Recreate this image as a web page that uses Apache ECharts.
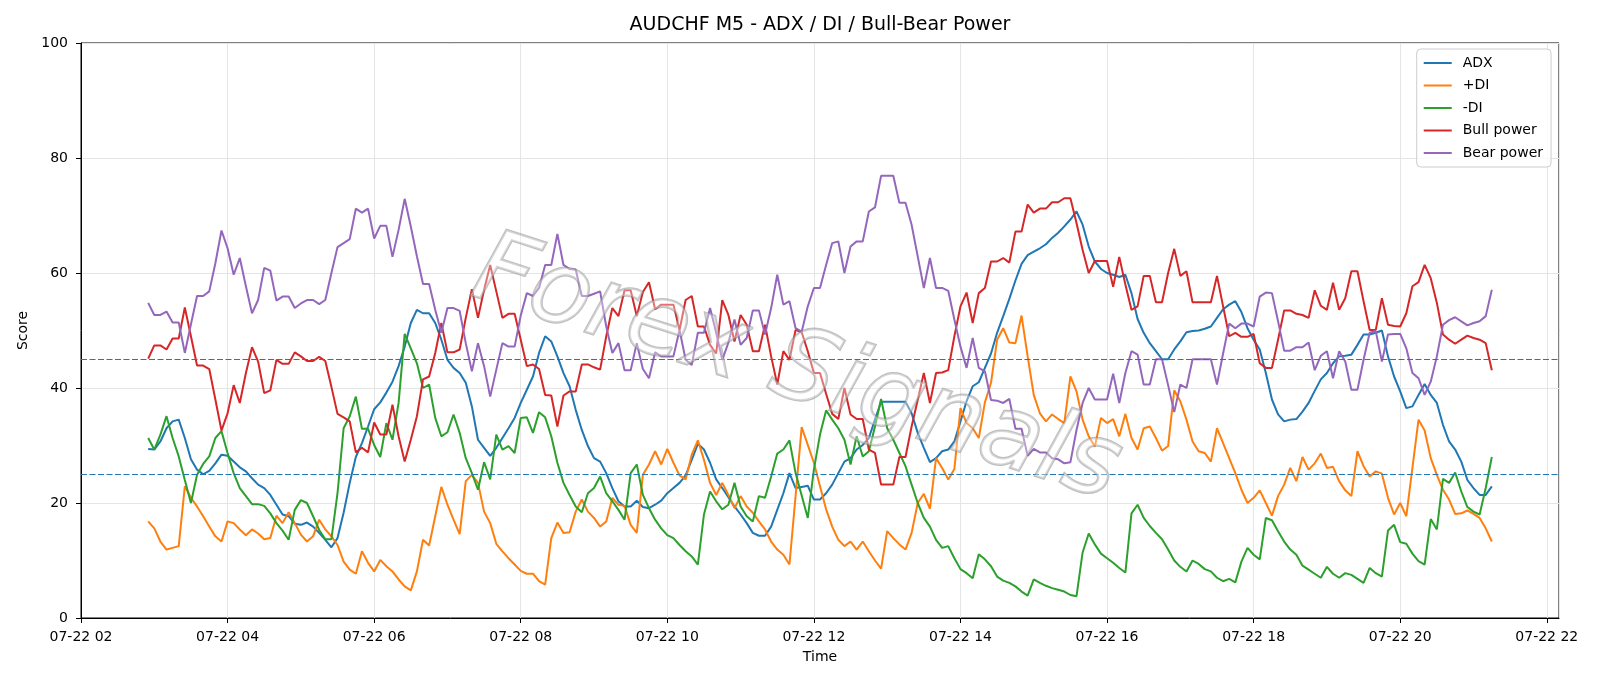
<!DOCTYPE html>
<html>
<head>
<meta charset="utf-8">
<title>AUDCHF M5 - ADX / DI / Bull-Bear Power</title>
<script src="https://cdn.jsdelivr.net/npm/echarts@6/dist/echarts.min.js"></script>
<style>
  html, body { margin: 0; padding: 0; background: #fff; }
  #chart { width: 1600px; height: 686px; }
</style>
</head>
<body>
<div id="chart"></div>
<script>
// M5 bars from 07-22 02:55 to 07-22 21:15 (hours of the day)
const startHour = 2 + 55 / 60
const stepMinutes = 5

const adx = [
  29.4, 29.3, 30.7, 33.0, 34.2, 34.5, 31.3, 27.6, 25.8, 25.0,
  25.6, 26.9, 28.4, 28.2, 27.2, 26.2, 25.5, 24.3, 23.2, 22.6,
  21.4, 19.7, 18.0, 17.7, 16.4, 16.2, 16.6, 15.9, 14.8, 13.6,
  12.3, 13.9, 18.3, 23.5, 28.0, 30.4, 33.3, 36.3, 37.5, 39.2,
  41.1, 43.8, 47.2, 51.3, 53.6, 53.0, 53.0, 51.3, 48.4, 44.9,
  43.5, 42.6, 40.9, 36.8, 31.0, 29.6, 28.2, 29.6, 31.3, 33.0,
  34.8, 37.4, 39.7, 42.0, 46.1, 49.0, 48.1, 45.5, 42.6, 40.3,
  36.2, 32.7, 29.9, 27.8, 27.2, 25.2, 22.6, 20.3, 19.4, 19.4,
  20.4, 19.3, 19.1, 19.7, 20.4, 21.7, 22.6, 23.5, 24.8, 27.5,
  30.3, 29.3, 27.0, 24.1, 22.6, 21.0, 19.4, 18.0, 16.5, 14.8,
  14.3, 14.3, 15.9, 18.8, 21.7, 25.2, 22.6, 22.8, 23.0, 20.6,
  20.6, 21.7, 23.2, 25.2, 27.2, 27.8, 29.3, 30.1, 31.3, 34.5,
  37.6, 37.6, 37.6, 37.6, 37.6, 35.6, 32.2, 29.6, 27.1, 27.8,
  29.0, 29.3, 30.7, 34.2, 37.7, 40.3, 41.0, 43.5, 46.0, 49.6,
  52.5, 55.5, 58.7, 61.6, 63.1, 63.7, 64.3, 65.0, 66.1, 67.0,
  68.1, 69.3, 70.7, 68.4, 64.6, 62.0, 60.7, 60.0, 59.7, 59.3,
  59.7, 56.5, 52.0, 49.6, 47.8, 46.4, 45.0, 45.0, 46.7, 48.1,
  49.7, 49.9, 50.0, 50.3, 50.7, 52.2, 53.7, 54.5, 55.1, 53.2,
  50.4, 48.4, 46.7, 42.6, 38.0, 35.4, 34.2, 34.5, 34.6, 35.9,
  37.4, 39.5, 41.5, 42.6, 44.3, 45.5, 45.6, 45.8, 47.5, 49.3,
  49.3, 49.6, 50.0, 45.5, 42.0, 39.4, 36.5, 36.8, 38.8, 40.7,
  38.8, 37.4, 33.6, 30.7, 29.3, 27.2, 24.0, 22.6, 21.4, 21.4, 22.9
]

const plusDi = [
  16.8, 15.6, 13.3, 11.9, 12.2, 12.5, 22.9, 20.9, 19.4, 17.7,
  15.9, 14.2, 13.3, 16.8, 16.5, 15.4, 14.4, 15.4, 14.7, 13.7,
  13.9, 17.8, 16.5, 18.4, 16.5, 14.5, 13.3, 14.2, 17.1, 15.4,
  14.2, 12.7, 9.8, 8.4, 7.7, 11.6, 9.6, 8.1, 10.1, 9.0,
  8.1, 6.7, 5.5, 4.8, 8.1, 13.6, 12.6, 17.7, 22.8, 19.7,
  17.1, 14.6, 23.8, 24.9, 23.5, 18.5, 16.5, 12.9, 11.6, 10.4,
  9.3, 8.2, 7.7, 7.7, 6.4, 5.8, 13.9, 16.6, 14.8, 14.9,
  18.5, 20.6, 18.5, 17.4, 15.9, 16.8, 20.9, 19.7, 19.5, 16.2,
  14.8, 24.9, 26.7, 29.0, 26.7, 29.4, 27.0, 24.8, 24.1, 28.4,
  30.9, 27.5, 23.5, 21.4, 23.5, 21.4, 19.1, 21.2, 19.4, 18.3,
  16.8, 15.4, 13.3, 11.9, 11.0, 9.3, 21.2, 33.2, 30.1, 27.0,
  22.9, 18.9, 15.9, 13.6, 12.5, 13.3, 11.9, 13.3, 11.6, 10.0,
  8.6, 15.1, 13.9, 12.8, 11.9, 14.8, 20.0, 21.6, 19.0, 27.8,
  26.1, 24.1, 25.9, 36.5, 33.9, 33.0, 31.3, 37.5, 40.9, 48.4,
  50.4, 47.9, 47.8, 52.6, 45.5, 38.8, 35.6, 34.2, 35.4, 34.6,
  33.9, 42.0, 39.4, 34.5, 31.6, 29.8, 34.8, 33.9, 34.6, 31.6,
  35.5, 31.3, 29.3, 33.0, 33.3, 31.3, 29.1, 29.9, 39.6, 37.7,
  34.5, 30.7, 29.0, 28.7, 27.2, 33.0, 30.4, 27.8, 25.2, 22.3,
  20.0, 20.9, 22.2, 20.0, 17.8, 21.2, 23.2, 26.1, 23.8, 28.0,
  25.8, 26.9, 28.6, 26.1, 26.3, 23.8, 22.2, 21.2, 29.0, 26.4,
  24.6, 25.5, 25.1, 20.9, 18.0, 20.0, 17.7, 26.1, 34.5, 32.6,
  27.8, 24.9, 22.3, 20.6, 18.1, 18.2, 18.7, 18.1, 17.4, 15.6, 13.3
]

const minusDi = [
  31.3, 29.3, 31.9, 35.1, 31.3, 28.1, 24.0, 20.0, 24.9, 26.8,
  28.1, 31.3, 32.5, 28.7, 25.2, 22.6, 21.2, 19.8, 19.8, 19.5,
  18.2, 16.5, 15.2, 13.6, 18.8, 20.5, 20.0, 17.7, 15.3, 13.7,
  13.7, 21.7, 33.0, 35.1, 38.5, 32.9, 32.9, 30.1, 28.0, 33.9,
  31.0, 37.4, 49.4, 46.9, 44.3, 40.0, 40.6, 34.8, 31.6, 32.3,
  35.4, 32.2, 27.8, 25.2, 22.3, 27.1, 24.1, 31.9, 29.3, 29.9,
  28.7, 34.8, 34.9, 32.2, 35.8, 34.9, 31.6, 27.0, 23.5, 21.4,
  19.4, 18.4, 21.7, 22.6, 24.6, 21.7, 20.3, 18.8, 17.1, 25.2,
  26.7, 21.4, 19.1, 17.1, 15.6, 14.4, 13.9, 12.7, 11.6, 10.7,
  9.3, 18.0, 22.0, 20.3, 18.9, 19.7, 23.5, 19.4, 17.7, 16.8,
  21.2, 20.9, 24.6, 28.6, 29.3, 30.9, 25.2, 21.3, 17.4, 25.8,
  31.9, 36.1, 34.5, 33.0, 31.0, 26.7, 31.6, 28.1, 29.0, 33.3,
  38.1, 33.0, 31.0, 28.7, 26.4, 23.2, 20.0, 17.4, 15.9, 13.6,
  12.2, 12.5, 10.4, 8.5, 7.8, 6.9, 11.1, 10.2, 9.0, 7.2,
  6.5, 6.1, 5.5, 4.6, 3.9, 6.7, 6.1, 5.6, 5.2, 4.9,
  4.6, 4.0, 3.8, 11.4, 14.7, 12.8, 11.2, 10.4, 9.6, 8.7,
  7.9, 18.2, 19.7, 17.4, 16.0, 14.8, 13.7, 11.9, 10.0, 8.9,
  8.1, 10.0, 9.4, 8.5, 8.1, 7.0, 6.4, 6.8, 6.2, 9.8,
  12.2, 11.0, 10.2, 17.4, 17.0, 15.1, 13.3, 11.9, 11.0, 9.1,
  8.4, 7.7, 7.0, 8.9, 7.7, 7.0, 7.8, 7.5, 6.8, 6.1,
  8.7, 7.8, 7.2, 15.2, 16.2, 13.2, 12.9, 11.2, 9.9, 9.3,
  17.2, 15.4, 24.2, 23.5, 25.3, 22.0, 19.3, 18.5, 18.0, 22.6, 28.0
]

const bullPower = [
  45.1, 47.4, 47.4, 46.7, 48.6, 48.6, 54.0, 49.0, 43.9, 43.9,
  43.3, 38.0, 32.6, 35.6, 40.5, 37.4, 42.6, 47.1, 44.6, 39.1,
  39.6, 44.9, 44.2, 44.2, 46.2, 45.5, 44.7, 44.7, 45.4, 44.7,
  40.2, 35.5, 34.9, 34.2, 28.8, 29.6, 28.8, 34.0, 31.9, 31.9,
  37.1, 31.6, 27.2, 31.0, 35.1, 41.5, 42.0, 46.1, 51.3, 46.2,
  46.2, 46.7, 52.2, 57.2, 52.2, 57.1, 61.4, 56.8, 52.2, 52.9,
  52.9, 48.4, 43.8, 44.1, 43.3, 38.8, 38.7, 33.3, 38.7, 39.4,
  39.4, 44.1, 44.1, 43.6, 43.2, 49.0, 53.9, 52.5, 57.0, 57.0,
  52.5, 56.7, 58.4, 53.7, 54.5, 54.5, 54.5, 50.1, 55.3, 56.0,
  50.7, 50.7, 47.5, 46.0, 55.3, 52.7, 48.1, 52.7, 51.0, 46.4,
  46.4, 51.0, 45.5, 40.6, 46.4, 44.9, 50.1, 49.7, 46.4, 42.6,
  42.6, 39.0, 35.5, 34.6, 40.0, 35.4, 34.6, 34.6, 29.3, 28.7,
  23.2, 23.2, 23.2, 28.0, 28.0, 33.3, 37.9, 42.6, 37.4, 42.6,
  42.7, 43.1, 49.0, 54.2, 56.6, 51.3, 56.5, 57.4, 62.0, 62.0,
  62.6, 61.8, 67.2, 67.2, 71.9, 70.5, 71.2, 71.2, 72.3, 72.3,
  73.0, 73.0, 68.7, 64.0, 60.0, 62.1, 62.1, 62.1, 57.6, 62.8,
  58.0, 53.6, 54.2, 59.5, 59.5, 54.9, 54.9, 60.0, 64.2, 59.5,
  60.3, 54.9, 54.9, 54.9, 54.9, 59.5, 54.2, 49.0, 49.6, 48.9,
  48.9, 49.4, 44.3, 43.5, 43.5, 48.4, 53.5, 53.5, 52.9, 52.7,
  52.2, 57.0, 54.3, 53.6, 58.3, 53.6, 55.6, 60.3, 60.3, 55.1,
  50.1, 50.1, 55.6, 51.0, 50.8, 50.7, 53.0, 57.7, 58.4, 61.4,
  59.1, 54.8, 49.3, 48.4, 47.7, 48.4, 49.1, 48.7, 48.4, 47.8, 43.1
]

const bearPower = [
  54.8, 52.7, 52.7, 53.3, 51.4, 51.4, 46.1, 51.1, 56.0, 56.0,
  56.8, 61.7, 67.4, 64.3, 59.7, 62.6, 57.7, 53.0, 55.3, 60.9,
  60.4, 55.2, 55.9, 55.9, 53.9, 54.7, 55.3, 55.3, 54.6, 55.3,
  60.0, 64.5, 65.2, 65.9, 71.2, 70.5, 71.2, 66.0, 68.2, 68.2,
  62.8, 67.5, 72.9, 68.1, 62.9, 58.1, 58.1, 53.6, 49.6, 53.9,
  53.9, 53.4, 47.8, 42.9, 47.8, 43.8, 38.5, 43.2, 47.8, 47.2,
  47.2, 52.6, 56.5, 56.0, 57.4, 61.4, 61.4, 66.8, 61.4, 60.7,
  60.6, 56.0, 56.0, 56.4, 56.8, 50.7, 46.1, 47.8, 43.1, 43.1,
  47.8, 43.3, 41.7, 46.2, 45.5, 45.5, 45.5, 50.1, 44.9, 44.0,
  49.6, 49.6, 53.9, 49.6, 44.9, 47.9, 51.9, 47.5, 48.7, 53.5,
  53.5, 49.3, 53.9, 59.7, 54.5, 55.1, 50.4, 49.8, 54.2, 57.4,
  57.4, 61.4, 65.2, 65.5, 60.0, 64.6, 65.5, 65.5, 70.7, 71.4,
  76.9, 76.9, 76.9, 72.2, 72.2, 68.4, 62.9, 57.4, 62.6, 57.4,
  57.4, 56.9, 51.9, 47.2, 43.5, 48.7, 43.5, 42.9, 37.9, 37.8,
  37.4, 38.1, 32.9, 32.9, 28.2, 29.4, 28.8, 28.8, 27.8, 27.6,
  26.9, 27.1, 32.7, 37.4, 40.0, 38.0, 38.0, 38.0, 42.5, 37.4,
  42.6, 46.4, 45.8, 40.6, 40.6, 45.0, 45.0, 40.5, 35.8, 40.6,
  40.0, 45.0, 45.0, 45.0, 45.0, 40.6, 46.0, 51.2, 50.4, 51.2,
  51.2, 50.7, 55.9, 56.6, 56.5, 51.6, 46.5, 46.5, 47.1, 47.1,
  47.9, 43.1, 45.6, 46.4, 41.7, 46.4, 44.6, 39.7, 39.7, 44.9,
  49.6, 49.9, 44.6, 49.3, 49.4, 49.4, 46.9, 42.6, 41.7, 38.8,
  41.1, 45.5, 51.0, 51.8, 52.3, 51.6, 50.9, 51.3, 51.6, 52.5, 57.1
]

const refLevels = [45, 25]
const xTickHours = [2, 4, 6, 8, 10, 12, 14, 16, 18, 20, 22]
const datePrefix = '07-22'
const watermarkText = 'Forex Signals'

const times = adx.map((_, i) => startHour + i * stepMinutes / 60)
const pair = (arr) => arr.map((v, i) => [times[i], v])

const font = 'DejaVu Sans'
const gridLeft = 81
const gridRight = 41
const myChart = echarts.init(document.getElementById('chart'))

myChart.setOption({
  animation: false,
  backgroundColor: '#fff',
  color: ['#1f77b4', '#ff7f0e', '#2ca02c', '#d62728', '#9467bd'],
  title: {
    text: 'AUDCHF M5 - ADX / DI / Bull-Bear Power',
    left: gridLeft + (1600 - gridLeft - gridRight) / 2,
    textAlign: 'center',
    top: 16,
    padding: 0,
    textStyle: { fontFamily: font, fontSize: 19, fontWeight: 'normal', color: '#000' }
  },
  grid: {
    left: gridLeft,
    right: gridRight,
    top: 43,
    bottom: 68,
    show: true,
    borderColor: '#000',
    borderWidth: 1
  },
  legend: {
    orient: 'vertical',
    right: 49,
    top: 49,
    padding: [7, 8, 7, 7],
    icon: 'rect',
    itemWidth: 28,
    itemHeight: 2,
    itemGap: 8.5,
    borderColor: '#cccccc',
    borderWidth: 1,
    borderRadius: 4,
    backgroundColor: 'rgba(255,255,255,0.8)',
    textStyle: { fontFamily: font, fontSize: 14, color: '#000', padding: [0, 0, 0, 6] },
    data: ['ADX', '+DI', '-DI', 'Bull power', 'Bear power']
  },
  graphic: [
    {
      // faint diagonal watermark over the plot
      type: 'text',
      x: 796,
      y: 372,
      rotation: -0.31,
      z: 100,
      silent: true,
      style: {
        text: watermarkText,
        align: 'center',
        verticalAlign: 'middle',
        font: 'italic 100px "DejaVu Sans"',
        fill: 'rgba(255,255,255,0.35)',
        stroke: 'rgba(140,140,140,0.55)',
        lineWidth: 2.5
      }
    }
  ],
  xAxis: {
    type: 'value',
    min: 2,
    max: 22 + 10 / 60,
    interval: 2,
    name: 'Time',
    nameLocation: 'middle',
    nameGap: 32,
    nameTextStyle: { fontFamily: font, fontSize: 14, color: '#000' },
    axisLine: { show: true, lineStyle: { color: '#000', width: 1 } },
    axisTick: { show: true, inside: false, length: 5, lineStyle: { color: '#000' } },
    axisLabel: {
      margin: 12,
      fontFamily: font,
      fontSize: 14,
      color: '#000',
      showMaxLabel: false,
      formatter: (v) => {
        if (Math.abs(v - Math.round(v)) > 1e-6 || xTickHours.indexOf(Math.round(v)) < 0) return ''
        return datePrefix + ' ' + String(Math.round(v)).padStart(2, '0')
      }
    },
    splitLine: { show: true, lineStyle: { color: '#e5e5e5', width: 1 } }
  },
  yAxis: {
    type: 'value',
    min: 0,
    max: 100,
    interval: 20,
    name: 'Score',
    nameLocation: 'middle',
    nameGap: 48,
    nameTextStyle: { fontFamily: font, fontSize: 14, color: '#000' },
    axisLine: { show: true, lineStyle: { color: '#000', width: 1 } },
    axisTick: { show: true, inside: false, length: 5, lineStyle: { color: '#000' } },
    axisLabel: { margin: 13, fontFamily: font, fontSize: 14, color: '#000' },
    splitLine: { show: true, lineStyle: { color: '#e5e5e5', width: 1 } }
  },
  series: [
    { name: 'ADX', type: 'line', data: pair(adx), symbol: 'none', lineStyle: { width: 2 } },
    { name: '+DI', type: 'line', data: pair(plusDi), symbol: 'none', lineStyle: { width: 2 } },
    { name: '-DI', type: 'line', data: pair(minusDi), symbol: 'none', lineStyle: { width: 2 } },
    { name: 'Bull power', type: 'line', data: pair(bullPower), symbol: 'none', lineStyle: { width: 2 } },
    { name: 'Bear power', type: 'line', data: pair(bearPower), symbol: 'none', lineStyle: { width: 2 } },
    {
      name: 'levels',
      type: 'line',
      data: [],
      markLine: {
        silent: true,
        symbol: 'none',
        label: { show: false },
        lineStyle: { color: '#1f77b4', type: [6, 2.5], width: 1.2 },
        data: refLevels.map(v => ({ yAxis: v }))
      }
    }
  ]
})

window.addEventListener('resize', () => myChart.resize())
</script>
</body>
</html>
